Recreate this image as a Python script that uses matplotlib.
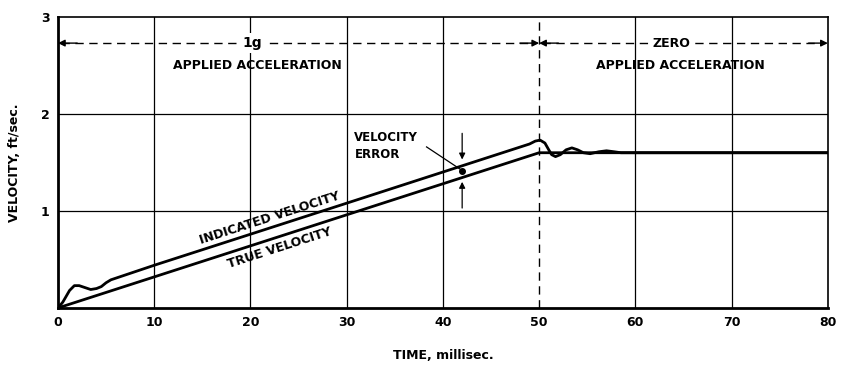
import numpy as np
import matplotlib.pyplot as plt

# indicated velocity (ft/sec)
ind_t = [0, 0.5, 1.2, 1.7, 2.2, 2.8, 3.4, 4.0, 4.5, 5.0, 5.5, 10, 30, 49.0,
         49.6, 50.1, 50.6, 51.0, 51.3, 51.7, 52.2, 52.8, 53.4, 54.0, 54.6,
         55.3, 56.2, 57.0, 57.8, 58.5, 80]
ind_v = [0, 0.06, 0.18, 0.23, 0.23, 0.21, 0.19, 0.20, 0.22, 0.26, 0.29,
         0.44, 1.08, 1.69, 1.72, 1.73, 1.70, 1.63, 1.58, 1.56, 1.58, 1.63,
         1.65, 1.63, 1.60, 1.59, 1.61, 1.62, 1.61, 1.60, 1.60]

# true velocity
true_t = [0, 50, 80]
true_v = [0, 1.60, 1.60]

x_ticks = [0, 10, 20, 30, 40, 50, 60, 70, 80]
y_ticks = [1, 2, 3]

plt.rcParams['font.family'] = 'DejaVu Sans'
plt.rcParams['font.weight'] = 'bold'
plt.rcParams['axes.labelweight'] = 'bold'

fig = plt.figure(figsize=(8.43, 3.76), dpi=100)
ax = fig.add_axes([0.0688, 0.181, 0.9132, 0.774])
ax.set_xlim(0, 80)
ax.set_ylim(0, 3)

# grid
for x in [10, 20, 30, 40, 60, 70]:
    ax.axvline(x, color='black', lw=0.9, zorder=1)
for y in [1, 2]:
    ax.axhline(y, color='black', lw=0.9, zorder=1)
ax.axvline(50, color='black', lw=1.0, ls=(0, (6, 4)), zorder=1)

ax.plot(ind_t, ind_v, color='black', lw=2.0, zorder=3,
        solid_joinstyle='round')
ax.plot(true_t, true_v, color='black', lw=2.0, zorder=3)

# rotated line labels
p1 = ax.transData.transform((10, 0.32))
p2 = ax.transData.transform((40, 1.28))
ang = np.degrees(np.arctan2(p2[1] - p1[1], p2[0] - p1[0]))
ax.text(22, 0.93, 'INDICATED VELOCITY', rotation=ang, ha='center',
        va='center', fontsize=9, rotation_mode='anchor')
ax.text(23, 0.62, 'TRUE VELOCITY', rotation=ang, ha='center',
        va='center', fontsize=9, rotation_mode='anchor')

# velocity error callout
ax.plot([42], [1.41], 'o', color='black', ms=4, zorder=4)
ax.annotate('', xy=(42, 1.53), xytext=(42, 1.80),
            arrowprops=dict(arrowstyle='-|>', color='black', lw=0.9,
                            mutation_scale=9, shrinkA=0, shrinkB=0))
ax.annotate('', xy=(42, 1.30), xytext=(42, 1.03),
            arrowprops=dict(arrowstyle='-|>', color='black', lw=0.9,
                            mutation_scale=9, shrinkA=0, shrinkB=0))
ax.plot([38.3, 41.8], [1.66, 1.43], color='black', lw=0.9)
ax.text(30.8, 1.67, 'VELOCITY\nERROR', ha='left', va='center',
        fontsize=8.5, linespacing=1.35)

# applied acceleration bands
ya = 2.73
ax.plot([0.3, 49.7], [ya, ya], color='black', lw=1.0, ls=(0, (6, 4)))
ax.plot([50.3, 79.7], [ya, ya], color='black', lw=1.0, ls=(0, (6, 4)))
for x0, x1 in [(2.0, 0.0), (48.0, 50.0), (52.0, 50.0), (78.0, 80.0)]:
    ax.annotate('', xy=(x1, ya), xytext=(x0, ya),
                arrowprops=dict(arrowstyle='-|>', color='black', lw=1.0,
                                mutation_scale=10, shrinkA=0, shrinkB=0))
ax.text(20.2, ya, '1g', ha='center', va='center', fontsize=10,
        bbox=dict(fc='white', ec='none', pad=2))
ax.text(20.7, 2.5, 'APPLIED ACCELERATION', ha='center', va='center',
        fontsize=9)
ax.text(63.8, ya, 'ZERO', ha='center', va='center', fontsize=9,
        bbox=dict(fc='white', ec='none', pad=2))
ax.text(64.7, 2.5, 'APPLIED ACCELERATION', ha='center', va='center',
        fontsize=9)

ax.set_xticks(x_ticks)
ax.set_yticks(y_ticks)
ax.tick_params(length=0, labelsize=9, pad=6)
ax.set_xlabel('TIME, millisec.', fontsize=9, labelpad=14)
ax.set_ylabel('VELOCITY, ft/sec.', fontsize=9, labelpad=14)
for side in ['left', 'bottom']:
    ax.spines[side].set_linewidth(2.0)
for side in ['top', 'right']:
    ax.spines[side].set_linewidth(1.2)

fig.savefig('out.png', dpi=100)
